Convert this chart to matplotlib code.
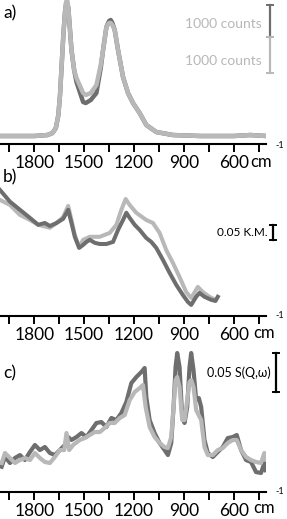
import numpy as np
import matplotlib.pyplot as plt
from matplotlib.ticker import FixedLocator
import matplotlib.transforms as mtransforms

plt.rcParams['font.family'] = ['Lato', 'DejaVu Sans']

DARK = "#6e6e6e"
LIGHT = "#b8b8b8"

# panel a: Raman (counts)
raman_cm = [2005, 1900, 1800, 1720, 1690, 1670, 1655, 1645, 1635, 1625, 1615, 1608,
            1602, 1595, 1585, 1576, 1560, 1546, 1506, 1490, 1460, 1426, 1400, 1386,
            1366, 1350, 1340, 1330, 1316, 1296, 1266, 1236, 1206, 1166, 1126, 1066,
            966, 800, 600, 500, 405]
raman_dark = [0, 0, 0, 31, 94, 250, 656, 1281, 2219, 3156, 3875, 4156,
              4156, 4000, 3313, 2688, 2063, 1688, 1063, 1031, 1125, 1344, 2125, 2688,
              3406, 3594, 3625, 3531, 3313, 2688, 1844, 1344, 1031, 719, 344, 125,
              31, 0, 0, 31, 0]
raman_light = [0, 0, 0, 31, 94, 250, 656, 1281, 2219, 3156, 3875, 4200,
               4250, 4000, 3313, 2688, 2063, 1813, 1344, 1281, 1344, 1594, 2219, 2688,
               3406, 3531, 3531, 3469, 3313, 2688, 1844, 1344, 1031, 719, 344, 125,
               31, 0, 0, 31, 0]

# panel b: DRIFTS (Kubelka-Munk)
km_dark_cm = [2006, 1946, 1886, 1826, 1776, 1736, 1706, 1666, 1626, 1596, 1576, 1556,
              1530, 1506, 1486, 1466, 1436, 1406, 1366, 1326, 1296, 1266, 1246, 1226,
              1196, 1166, 1126, 1096, 1066, 1026, 986, 946, 906, 876, 856, 826, 806,
              776, 736, 710, 696]
km_dark = [0.433, 0.394, 0.367, 0.340, 0.317, 0.323, 0.313, 0.323, 0.337, 0.367, 0.323, 0.277,
           0.240, 0.250, 0.260, 0.267, 0.257, 0.253, 0.253, 0.260, 0.300, 0.333, 0.357, 0.340,
           0.317, 0.300, 0.273, 0.260, 0.240, 0.200, 0.157, 0.117, 0.083, 0.060, 0.050, 0.077, 0.090,
           0.077, 0.067, 0.063, 0.077]
km_light_cm = [2006, 1946, 1886, 1826, 1776, 1706, 1666, 1626, 1596, 1576, 1556, 1530,
               1506, 1466, 1406, 1346, 1306, 1276, 1250, 1226, 1186, 1126, 1086, 1046,
               1006, 966, 926, 886, 856, 816, 786, 746, 710]
km_light = [0.400, 0.383, 0.350, 0.333, 0.317, 0.307, 0.323, 0.343, 0.380, 0.333, 0.283, 0.243,
            0.267, 0.277, 0.277, 0.290, 0.317, 0.367, 0.403, 0.383, 0.357, 0.333, 0.323, 0.290,
            0.233, 0.190, 0.143, 0.093, 0.073, 0.110, 0.093, 0.077, 0.067]

# panel c: INS S(Q,w)
ins_dark_cm = [1996, 1976, 1946, 1916, 1886, 1856, 1826, 1796, 1766, 1736, 1706, 1676,
               1646, 1616, 1596, 1576, 1546, 1516, 1486, 1456, 1426, 1396, 1366, 1336,
               1306, 1276, 1246, 1216, 1186, 1156, 1136, 1126, 1106, 1076, 1046, 1016,
               996, 976, 962, 950, 940, 926, 910, 896, 880, 866, 856, 842, 826, 810,
               796, 776, 756, 726, 696, 666, 636, 606, 582, 556, 526, 496, 466, 436, 416, 408]
ins_dark = [0.0324, 0.0453, 0.0372, 0.0436, 0.0474, 0.0410, 0.0513, 0.0603, 0.0538, 0.0577, 0.0500, 0.0474,
            0.0538, 0.0603, 0.0705, 0.0667, 0.0705, 0.0756, 0.0705, 0.0795, 0.0885, 0.0897, 0.0833, 0.0949,
            0.0923, 0.1013, 0.1154, 0.1397, 0.1474, 0.1538, 0.1590, 0.1218, 0.0923, 0.0756, 0.0628, 0.0538,
            0.0474, 0.0628, 0.1090, 0.1603, 0.1782, 0.1603, 0.0962, 0.0885, 0.1090, 0.1603, 0.1782, 0.1564, 0.1179, 0.1205,
            0.1090, 0.0667, 0.0500, 0.0449, 0.0513, 0.0577, 0.0692, 0.0705, 0.0731, 0.0538, 0.0410, 0.0385, 0.0256, 0.0244, 0.0372, 0.0280]
ins_light_cm = [1996, 1976, 1946, 1916, 1886, 1856, 1826, 1796, 1766, 1736, 1706, 1676,
                1646, 1620, 1606, 1590, 1566, 1526, 1496, 1466, 1436, 1406, 1376, 1346,
                1316, 1286, 1256, 1226, 1196, 1166, 1146, 1130, 1106, 1076, 1046, 1016,
                996, 976, 962, 950, 940, 926, 910, 896, 880, 866, 856, 842, 826, 796,
                776, 756, 726, 696, 666, 636, 606, 582, 556, 526, 496, 466, 436, 416, 408]
ins_light = [0.0372, 0.0500, 0.0436, 0.0372, 0.0410, 0.0436, 0.0410, 0.0500, 0.0436, 0.0385, 0.0372, 0.0449,
             0.0538, 0.0538, 0.0756, 0.0538, 0.0603, 0.0667, 0.0692, 0.0731, 0.0769, 0.0769, 0.0821, 0.0885,
             0.0885, 0.0949, 0.0987, 0.1179, 0.1282, 0.1333, 0.1372, 0.1090, 0.0833, 0.0705, 0.0628, 0.0577,
             0.0564, 0.0705, 0.1090, 0.1436, 0.1474, 0.1346, 0.0923, 0.0923, 0.1179, 0.1410, 0.1436, 0.1346, 0.1051, 0.0923,
             0.0577, 0.0474, 0.0474, 0.0538, 0.0564, 0.0628, 0.0667, 0.0667, 0.0538, 0.0449, 0.0410, 0.0385, 0.0372, 0.0500, 0.0420]

major_ticks = [1800, 1500, 1200, 900, 600]
minor_ticks = [1950, 1650, 1350, 1050, 750, 450]

H = 519.0
fig = plt.figure(figsize=(2.87, 5.19), dpi=100)

W = 266 / 287


def setup(ax, ylim):
    ax.set_xlim(2006, 406)
    ax.set_ylim(*ylim)
    for s in ["top", "right", "left"]:
        ax.spines[s].set_visible(False)
    ax.spines["bottom"].set_linewidth(1.5)
    ax.set_yticks([])
    ax.xaxis.set_major_locator(FixedLocator(major_ticks))
    ax.xaxis.set_minor_locator(FixedLocator(minor_ticks))
    ax.tick_params(axis="x", which="both", direction="out", length=5.5, width=1.4, pad=2.5, labelsize=12.5)
    ax.patch.set_alpha(0)


def scalebar(ax, x, y0, y1, color):
    trans = mtransforms.blended_transform_factory(ax.transAxes, ax.transData)
    ax.plot([x, x], [y0, y1], color=color, lw=1.6, transform=trans, clip_on=False)
    for y in (y0, y1):
        ax.plot([x - 0.013, x + 0.013], [y, y], color=color, lw=1.4, transform=trans, clip_on=False)


# a)
ax1 = fig.add_axes([0, 1 - 143.5 / H, W, 143.5 / H])
setup(ax1, (-234, 4250))
ax1.plot(raman_cm, raman_dark, color=DARK, lw=3.2)
ax1.plot(raman_cm, raman_light, color=LIGHT, lw=3.2)
scalebar(ax1, 270 / 266, 4094, 3094, DARK)
scalebar(ax1, 270 / 266, 3094, 1969, LIGHT)
t1 = mtransforms.blended_transform_factory(ax1.transAxes, ax1.transData)
ax1.text(262 / 266, 3500, "1000 counts", color=LIGHT, fontsize=10, ha="right", va="center", transform=t1)
ax1.text(262 / 266, 2350, "1000 counts", color=LIGHT, fontsize=10, ha="right", va="center", transform=t1)

# b)
ax2 = fig.add_axes([0, 1 - 315.7 / H, W, 143.7 / H])
setup(ax2, (0.014, 0.493))
ax2.plot(km_light_cm, km_light, color=LIGHT, lw=2.9)
ax2.plot(km_dark_cm, km_dark, color=DARK, lw=2.9)
scalebar(ax2, 273 / 266, 0.317, 0.267, "black")
t2 = mtransforms.blended_transform_factory(ax2.transAxes, ax2.transData)
ax2.text(268 / 266, 0.292, "0.05 K.M.", fontsize=8.5, ha="right", va="center", transform=t2)

# c)
ax3 = fig.add_axes([0, 1 - 491.7 / H, W, 146.7 / H])
setup(ax3, (0.0004, 0.1885))
ax3.plot(ins_dark_cm, ins_dark, color=DARK, lw=3.0)
ax3.plot(ins_light_cm, ins_light, color=LIGHT, lw=3.0)
scalebar(ax3, 276 / 266, 0.1782, 0.1282, "black")
t3 = mtransforms.blended_transform_factory(ax3.transAxes, ax3.transData)
ax3.text(271 / 266, 0.1532, "0.05 S(Q,\u03c9)", fontsize=9, ha="right", va="center", transform=t3)

# panel letters and units
for lab, ypx in [("a)", 13), ("b)", 177), ("c)", 373)]:
    fig.text(3 / 287, 1 - ypx / H, lab, fontsize=12.5, va="center", ha="left")
for xpx, ypx in [(250, 162), (253, 333), (253, 508)]:
    fig.text(xpx / 287, 1 - ypx / H, "cm", fontsize=12, va="center", ha="left")
    fig.text(275 / 287, 1 - (ypx - 17) / H, "-1", fontsize=6.5, va="center", ha="left")

fig.savefig("out.png", dpi=100)
